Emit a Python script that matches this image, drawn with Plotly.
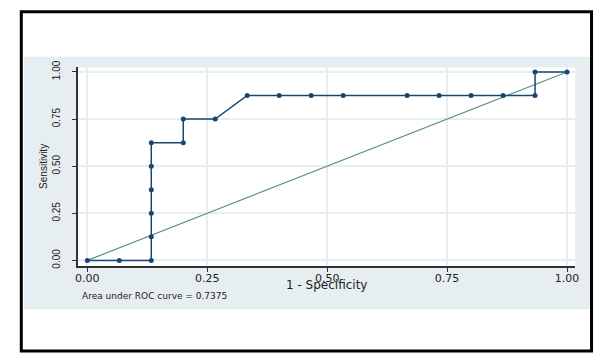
import plotly.graph_objects as go

# ROC curve coordinates (1 - specificity, sensitivity)
fpr = [0, 1/15, 2/15, 2/15, 2/15, 2/15, 2/15, 2/15, 3/15, 3/15, 4/15, 5/15,
       6/15, 7/15, 8/15, 10/15, 11/15, 12/15, 13/15, 14/15, 14/15, 1]
tpr = [0, 0, 0, 0.125, 0.25, 0.375, 0.5, 0.625, 0.625, 0.75, 0.75, 0.875,
       0.875, 0.875, 0.875, 0.875, 0.875, 0.875, 0.875, 0.875, 1, 1]

# chance diagonal
diag = [0, 1]

tick_vals = [0, 0.25, 0.5, 0.75, 1]
tick_text = ["0.00", "0.25", "0.50", "0.75", "1.00"]

auc_label = "Area under ROC curve = 0.7375"

W, H = 599, 355
PX0, PX1 = 76, 579   # plot region, pixels
PY0, PY1 = 62, 266

NAVY = "#1a476f"
GRID = "#e6eef1"
BAND = "#e7eef1"

fig = go.Figure()

fig.add_trace(go.Scatter(
    x=diag, y=diag, mode="lines",
    line=dict(color="#5a9282", width=1.2),
    hoverinfo="skip", showlegend=False,
))
fig.add_trace(go.Scatter(
    x=fpr, y=tpr, mode="lines+markers",
    line=dict(color=NAVY, width=1.5),
    marker=dict(color=NAVY, size=5, symbol="circle"),
    showlegend=False,
))

def px(x):
    return x / W

def py(y):
    return 1 - y / H

shapes = [
    # shaded graph region
    dict(type="rect", xref="paper", yref="paper",
         x0=px(21), x1=px(594), y0=py(310), y1=py(51),
         fillcolor=BAND, line=dict(width=0), layer="below"),
    # white plot region
    dict(type="rect", xref="paper", yref="paper",
         x0=px(PX0), x1=px(PX1), y0=py(PY1), y1=py(PY0),
         fillcolor="white", line=dict(width=0), layer="below"),
    # outer frame
    dict(type="rect", xref="paper", yref="paper",
         x0=px(18.5), x1=px(595.5), y0=py(353), y1=py(5),
         fillcolor="rgba(0,0,0,0)", line=dict(color="black", width=3)),
]

annotations = [
    dict(text="Sensitivity", textangle=-90, xref="paper", yref="paper",
         x=px(41), y=py(163.5), xanchor="center", yanchor="middle",
         showarrow=False,
         font=dict(family="Liberation Sans", size=10, color="#222")),
    dict(text="1 - Specificity", xref="paper", yref="paper",
         x=px(327.5), y=py(285), xanchor="center", yanchor="middle",
         showarrow=False,
         font=dict(family="DejaVu Sans", size=12, color="#222")),
    dict(text=auc_label, xref="paper", yref="paper",
         x=px(78), y=py(297), xanchor="left", yanchor="middle",
         showarrow=False,
         font=dict(family="DejaVu Sans", size=9, color="#222")),
]

axis_common = dict(
    tickvals=tick_vals, ticktext=tick_text,
    showgrid=True, gridcolor=GRID, gridwidth=1.5,
    zeroline=False, showline=True, linecolor="#333", linewidth=1.5,
    ticks="outside", ticklen=4, tickcolor="#333", tickwidth=1,
    fixedrange=True,
)

fig.update_layout(
    width=W, height=H, autosize=False,
    margin=dict(l=0, r=0, t=0, b=0),
    paper_bgcolor="white", plot_bgcolor="rgba(0,0,0,0)",
    xaxis=dict(
        domain=[px(PX0), px(PX1)], range=[-0.0192, 1.0171],
        tickfont=dict(family="DejaVu Sans", size=11, color="#222"),
        ticklabelstandoff=-3,
        **axis_common,
    ),
    yaxis=dict(
        domain=[py(PY1), py(PY0)], range=[-0.031, 1.024],
        tickangle=-90,
        tickfont=dict(family="Liberation Sans", size=10, color="#222"),
        ticklabelstandoff=8,
        **axis_common,
    ),
    shapes=shapes,
    annotations=annotations,
)

fig.write_html("out.html")
